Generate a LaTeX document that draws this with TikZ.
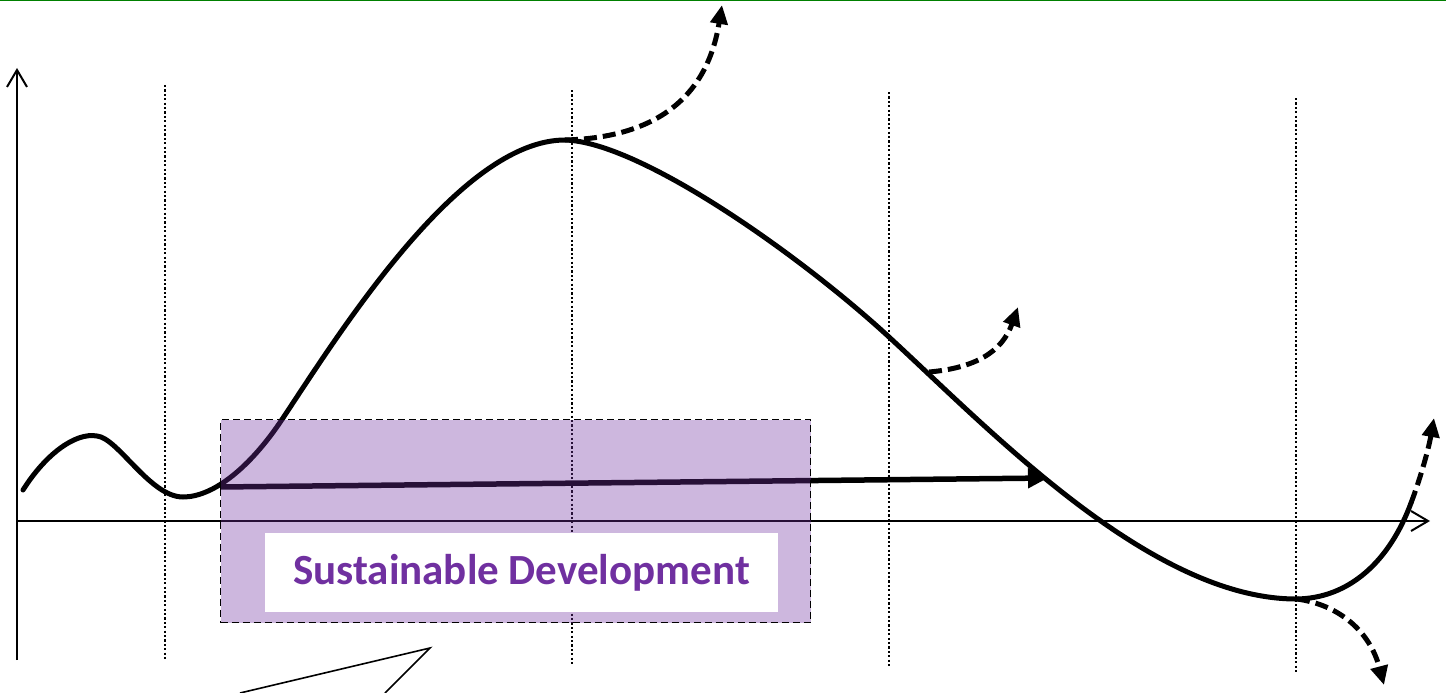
\documentclass[tikz,border=0pt]{standalone}
\usepackage{fontspec}
\setmainfont{Carlito}
\usetikzlibrary{arrows.meta}
\definecolor{sdpurple}{HTML}{7030A0}
\definecolor{topgreen}{HTML}{008000}
\tikzset{
  axisline/.style={line width=2pt, -{Straight Barb[length=17pt,width=20pt,line width=2pt]}},
  guide/.style={line width=2.3pt, dash pattern=on 2.2pt off 2.2pt},
  mcurve/.style={line width=5pt, line cap=round},
  dasharrow/.style={line width=5pt, dash pattern=on 13pt off 6pt, -{Triangle[length=19pt,width=17pt]}},
  thickarrow/.style={line width=5.5pt, -{Triangle[length=20pt,width=19pt]}},
  sdbox/.style={fill=sdpurple, fill opacity=0.35, draw=black, draw opacity=1, line width=1.4pt, dash pattern=on 7pt off 4pt},
  sdlabel/.style={fill=white, inner sep=0pt, minimum width=513pt, minimum height=79pt, text=sdpurple, font=\fontsize{43}{50}\selectfont\bfseries},
  callout/.style={line width=1.6pt}
}
\begin{document}
\begin{tikzpicture}[x=1pt,y=-1pt]
\useasboundingbox (0,0) rectangle (1446,693);
% top green rule
\draw[topgreen, line width=2.5pt] (0,0) -- (1446,0);
% axes
\coordinate (O) at (17,521);
\coordinate (ytop) at (17,68);
\coordinate (ybot) at (17,660);
\coordinate (xend) at (1430,521);
\draw[axisline] (ybot) -- (ytop);
\draw[axisline] (O) -- (xend);
% dotted guides
\draw[guide] (165,85) -- (165,661);
\draw[guide] (572,90) -- (572,666);
\draw[guide] (889,92) -- (889,666);
\draw[guide] (1296,98) -- (1296,672);
% named points on the curve
\coordinate (c0) at (23,490);
\coordinate (c1) at (97,436);
\coordinate (c2) at (183,497);
\coordinate (c3) at (283,418);
\coordinate (peak) at (565,140);
\coordinate (c5) at (889,337);
\coordinate (trough) at (1295,599);
\coordinate (cend) at (1411,503);
% main curve
\draw[mcurve] (c0) .. controls (45,455) and (75,432) .. (c1)
  .. controls (118,438) and (150,497) .. (c2)
  .. controls (213,497) and (250,468) .. (c3)
  .. controls (340,332) and (460,140) .. (peak)
  .. controls (640,142) and (800,255) .. (c5)
  .. controls (990,430) and (1150,598) .. (trough)
  .. controls (1350,599) and (1390,560) .. (cend);
\coordinate (mid) at (929,372);
\coordinate (start) at (220,487);
\coordinate (a1) at (722,5);
\coordinate (a2) at (1018,307);
\coordinate (a3) at (1434,418);
\coordinate (a4) at (1384,685);
\coordinate (a5) at (1048,478);
% dashed scenario arrows
\draw[dasharrow] (peak) .. controls (640,138) and (705,110) .. (a1);
\draw[dasharrow] (mid) .. controls (975,368) and (1002,352) .. (a2);
\draw[dasharrow] (cend) .. controls (1419,482) and (1428,452) .. (a3);
\draw[dasharrow] ([xshift=2pt]trough) .. controls (1340,605) and (1370,632) .. (a4);
% sustainable development arrow
\draw[thickarrow] (start) -- (a5);
% purple box
\node[sdbox, minimum width=590pt, minimum height=203pt, inner sep=0pt, anchor=north west] (box) at (220,419) {};
\node[sdlabel] (sd) at (521.5,572.5) {Sustainable Development};
% callout lines
\coordinate (ctip) at (430,648);
\coordinate (cl) at (240,693);
\coordinate (cr) at (385,693);
\draw[callout] (cl) -- (ctip) -- (cr);
\end{tikzpicture}
\end{document}
